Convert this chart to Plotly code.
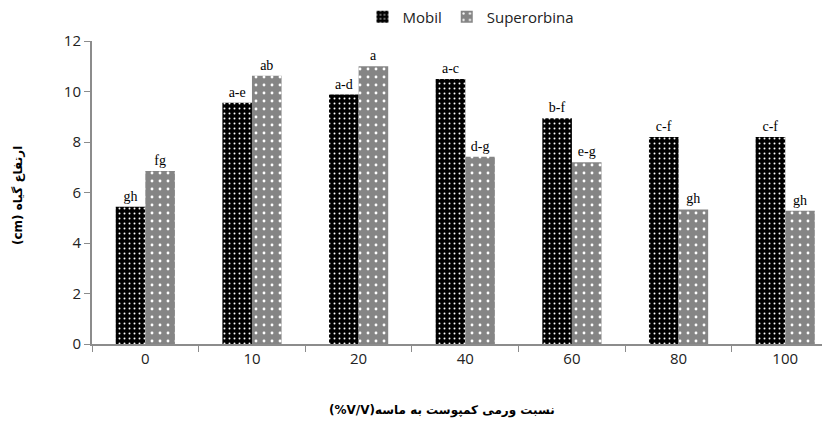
import plotly.graph_objects as go

categories = ["0", "10", "20", "40", "60", "80", "100"]
mobil = [5.44, 9.55, 9.88, 10.50, 8.94, 8.20, 8.20]
superorbina = [6.85, 10.62, 11.0, 7.42, 7.20, 5.33, 5.28]
mobil_letters = ["gh", "a-e", "a-d", "a-c", "b-f", "c-f", "c-f"]
super_letters = ["fg", "ab", "a", "d-g", "e-g", "gh", "gh"]
y_ticks = [0, 2, 4, 6, 8, 10, 12]

RLE, PDF = "\u202b", "\u202c"
x_title = RLE + "نسبت ورمی کمپوست به ماسه(V/V%)" + PDF
y_title = RLE + "ارتفاع گیاه (cm)" + PDF

label_font = dict(family="Liberation Serif", size=14, color="#000")

fig = go.Figure()
fig.add_trace(go.Bar(
    x=categories, y=mobil, name="Mobil",
    text=mobil_letters, textposition="outside", textfont=label_font,
    marker=dict(color="#000000", line=dict(width=0),
                pattern=dict(shape=".", fgcolor="#ffffff", bgcolor="#000000",
                             size=5, solidity=0.12, fillmode="replace")),
    cliponaxis=False,
))
fig.add_trace(go.Bar(
    x=categories, y=superorbina, name="Superorbina",
    text=super_letters, textposition="outside", textfont=label_font,
    marker=dict(color="#858585", line=dict(width=0),
                pattern=dict(shape=".", fgcolor="#ffffff", bgcolor="#858585",
                             size=8, solidity=0.1, fillmode="replace")),
    cliponaxis=False,
))

W_PLOT, H_PLOT = 738, 303
fig.update_layout(
    width=830, height=423,
    margin=dict(l=84, r=8, t=33, b=87, autoexpand=False),
    plot_bgcolor="#ffffff", paper_bgcolor="#ffffff",
    barmode="group", bargap=0.445, bargroupgap=0,
    font=dict(family="Open Sans", size=15, color="#222"),
    showlegend=True,
    legend=dict(orientation="h", x=(471 - 8 - 84) / W_PLOT, xanchor="center",
                y=1 - 9 / 423, yref="container", yanchor="middle",
                font=dict(family="Open Sans", size=15, color="#222"),
                itemwidth=30, traceorder="normal", bgcolor="rgba(0,0,0,0)"),
    annotations=[
        dict(text=x_title, xref="paper", yref="paper", x=(442 - 92) / W_PLOT, y=-66 / H_PLOT,
             xanchor="center", yanchor="middle", showarrow=False,
             font=dict(family="DejaVu Sans", size=12, color="#000", weight="bold")),
        dict(text=y_title, xref="paper", yref="paper", x=-74 / W_PLOT, y=(344 - 196) / H_PLOT,
             xanchor="center", yanchor="middle", showarrow=False, textangle=-90,
             font=dict(family="DejaVu Sans", size=12, color="#000", weight="bold")),
    ],
)
fig.update_xaxes(
    type="category", range=[-0.5, 6.42], automargin=False,
    showline=True, linecolor="#8c8c8c", linewidth=2,
    ticks="outside", tickson="boundaries", ticklen=6, tickcolor="#8c8c8c",
    showgrid=False, tickfont=dict(family="Open Sans", size=15, color="#222"),
)
fig.update_yaxes(
    range=[0, 12], tickvals=y_ticks, automargin=False,
    showline=True, linecolor="#8c8c8c", linewidth=2,
    ticks="outside", ticklen=6, tickcolor="#8c8c8c",
    showgrid=False, zeroline=False,
    tickfont=dict(family="Open Sans", size=15, color="#222"),
)

fig.write_html("out.html")
